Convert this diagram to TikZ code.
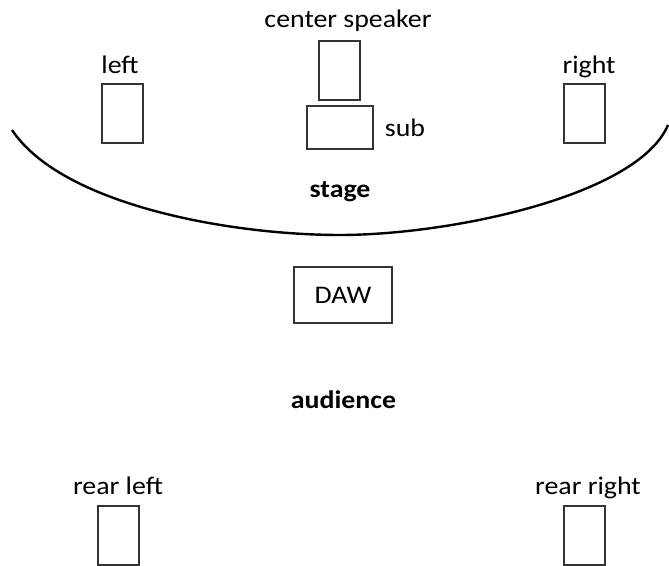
\documentclass[tikz,border=0pt]{standalone}
\usepackage{fontspec}
\setmainfont{Carlito}
\usepackage{tikz}
\newcommand\wide[1]{\scalebox{1.1}[1]{#1}}
\newdimen\pxu \pxu=0.75pt
\tikzset{
  spk/.style={draw=black!80, line width=0.8pt, rectangle, inner sep=0pt, minimum width=41\pxu, minimum height=59\pxu},
  lbl/.style={anchor=base, inner sep=0pt, font=\fontsize{19}{23}\selectfont},
  bold lbl/.style={lbl, font=\fontsize{19}{23}\selectfont\bfseries}
}

\begin{document}
\begin{tikzpicture}[x=0.75pt,y=-0.75pt]
	\useasboundingbox (0,0) rectangle (669,566);

	% speakers
	\foreach \nm/\x/\y in {left/122.5/113.5, right/584.5/113.5, center/339.5/70.5, rearleft/118.5/535.5, rearright/584.5/535.5}
	{
		\node[spk] (\nm) at (\x,\y) {};
	}
	\node[spk, minimum width=66\pxu, minimum height=43\pxu] (sub) at (340,127.5) {};
	\node[spk, minimum width=98\pxu, minimum height=56\pxu, font=\fontsize{19}{23}\selectfont] (daw) at (343,295) {\wide{DAW}};

	% labels
	\node[lbl] (centerlbl) at (348,28) {\wide{center speaker}};
	\node[lbl] (leftlbl) at (120,74) {\wide{left}};
	\node[lbl] (rightlbl) at (589,74) {\wide{right}};
	\node[lbl] (sublbl) at (405,137) {\wide{sub}};
	\node[lbl] (rearleftlbl) at (118,495) {\wide{rear left}};
	\node[lbl] (rearrightlbl) at (588,495) {\wide{rear right}};
	\node[bold lbl] (stage) at (340,198) {\wide{stage}};
	\node[bold lbl] (audience) at (343.5,409) {\wide{audience}};

	% stage edge
	\coordinate (stageL) at (12,130);
	\coordinate (stageB) at (340,235);
	\coordinate (stageR) at (668,125);
	\draw[line width=1.8pt] (stageL) .. controls (62,205) and (230,235) .. (stageB)
		.. controls (450,235) and (638,196) .. (stageR);
\end{tikzpicture}
\end{document}
